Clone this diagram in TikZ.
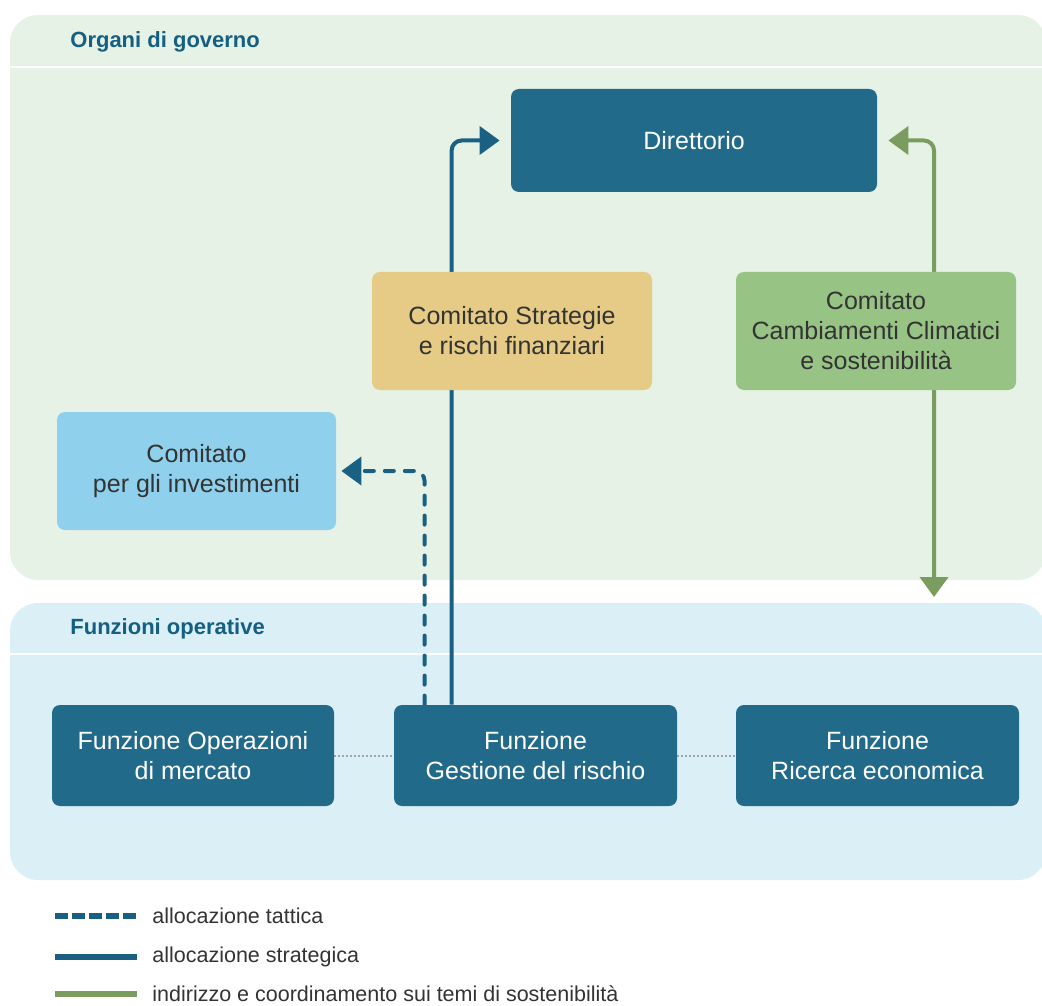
\documentclass[tikz,border=0pt]{standalone}
\usepackage{fontspec}
\setmainfont{Liberation Sans}
\usetikzlibrary{positioning,arrows.meta,calc}
\definecolor{cteal}{HTML}{216A8A}
\definecolor{cline}{HTML}{1A6082}
\definecolor{cleaf}{HTML}{7A9C5E}
\definecolor{csand}{HTML}{E5CB85}
\definecolor{cmoss}{HTML}{97C485}
\definecolor{csky}{HTML}{8FD0EC}
\definecolor{cgovbg}{HTML}{E6F2E6}
\definecolor{copsbg}{HTML}{DAEFF6}
\definecolor{chead}{HTML}{145F82}
\definecolor{ctext}{HTML}{333333}
\pgfdeclarelayer{panel}
\pgfdeclarelayer{wire}
\pgfsetlayers{panel,wire,main}

\begin{document}
\begin{tikzpicture}[x=0.5pt, y=-0.5pt,
  box/.style={rounded corners=4pt, inner sep=2pt, align=center,
    font=\fontsize{12.5}{15}\selectfont},
  dark/.style={box, fill=cteal, text=white, minimum width=141pt, minimum height=50.5pt},
  comm/.style={box, text=ctext, minimum width=140pt, minimum height=59pt},
  head/.style={anchor=west, inner sep=0pt, text=chead, font=\fontsize{11}{13}\selectfont\bfseries},
  legtxt/.style={anchor=west, inner sep=0pt, text=ctext, font=\fontsize{10.75}{13}\selectfont},
  strat/.style={cline, line width=2pt, rounded corners=5pt, -{Triangle[length=10pt,width=14pt]}},
  tact/.style={strat, line cap=round, dash pattern=on 4.5pt off 5.5pt},
  sost/.style={cleaf, line width=2pt, rounded corners=5pt,
    {Triangle[length=10pt,width=14pt]}-{Triangle[length=10pt,width=14pt]}},
  link/.style={gray!70, line width=1pt, dash pattern=on 0.8pt off 1.2pt},
  legline/.style={line width=3.2pt}]

\useasboundingbox (0,0) rectangle (1042,1005);

% ---- panels (pixel units, y down)
\begin{pgfonlayer}{panel}
\fill[cgovbg, rounded corners=14pt] (10,15) rectangle (1046,580);
\fill[copsbg, rounded corners=14pt] (10,603) rectangle (1046,880);
\draw[white, line width=1pt] (10,67) -- (1046,67);
\draw[white, line width=1pt] (10,654) -- (1046,654);
\end{pgfonlayer}
\node[head] (hgov) at (70,42)  {Organi di governo};
\node[head] (hops) at (70,629) {Funzioni operative};

% governance row
\node[dark, minimum width=183pt, minimum height=51.5pt] (dir) at (694,140.5) {Direttorio};
\node[comm, fill=csand] (csr)  at (512,331) {Comitato Strategie\\e rischi finanziari};
\node[comm, fill=cmoss] (ccc)  at (876,331) {Comitato\\Cambiamenti Climatici\\e sostenibilità};
\node[comm, fill=csky, minimum width=139.5pt] (cinv) at (196.5,471) {Comitato\\per gli investimenti};

% operative row
\node[dark] (fop)  at (193,755.5)   {Funzione Operazioni\\di mercato};
\node[dark, minimum width=141.5pt] (fgr) at (535.5,755.5) {Funzione\\Gestione del rischio};
\node[dark, minimum width=141.5pt] (fre) at (877.5,755.5) {Funzione\\Ricerca economica};
\coordinate (sust) at (934,597);

% ---- connectors
\begin{pgfonlayer}{wire}
\draw[strat, shorten >=5.5pt] ([xshift=29pt]fgr.north west) |- (dir.west);
\draw[tact, shorten >=2.5pt] ([xshift=15.5pt]fgr.north west) |- (cinv.east);
\draw[sost, shorten <=5.5pt] (dir.east) -| (sust);
\draw[link] (fop) -- (fgr);
\draw[link] (fgr) -- (fre);
\end{pgfonlayer}

% ---- legend
\node[legtxt] (lt) at (152,916) {allocazione tattica};
\node[legtxt] (ls) at (152,957) {allocazione strategica};
\node[legtxt] (lg) at (152,994) {indirizzo e coordinamento sui temi di sostenibilità};
\draw[legline, cline, dash pattern=on 6.5pt off 2pt] ([xshift=-48.5pt]lt.west) -- ([xshift=-7.5pt]lt.west);
\draw[legline, cline] ([xshift=-48.5pt]ls.west) -- ([xshift=-7.5pt]ls.west);
\draw[legline, cleaf] ([xshift=-48.5pt]lg.west) -- ([xshift=-7.5pt]lg.west);
\end{tikzpicture}
\end{document}
